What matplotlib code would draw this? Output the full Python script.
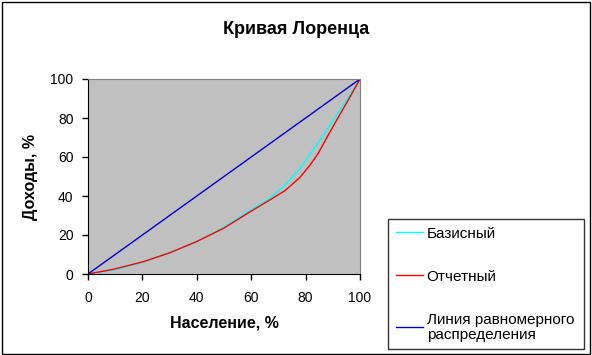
import matplotlib
matplotlib.use("Agg")
import matplotlib.pyplot as plt
from matplotlib.patches import Rectangle

plt.rcParams['font.family'] = ['Liberation Sans', 'DejaVu Sans']

# Data
base_x = [0, 10, 20, 30, 40, 50, 60, 66, 72, 78, 84, 90, 95, 100]
base_y = [0, 2.2, 6.0, 10.8, 16.6, 24.0, 33.0, 38.0, 45.0, 54.2, 66.0, 78.5, 89.0, 100]
rep_x = [0, 9.3, 20.3, 30.1, 39.9, 49.8, 59.6, 65.7, 72.4, 77.9, 81.6, 84.7, 88.0, 92.0, 96.0, 100]
rep_y = [0, 2.4, 6.3, 10.9, 16.6, 23.4, 31.9, 37.0, 42.7, 49.5, 55.8, 62.0, 70.5, 80.3, 90.0, 100]
eq_x = [0, 100]
eq_y = [0, 100]
xticks = [0, 20, 40, 60, 80, 100]
yticks = [0, 20, 40, 60, 80, 100]

fig = plt.figure(figsize=(5.92, 3.55), dpi=100)
fig.patch.set_facecolor('white')
fig.add_artist(Rectangle((0.003, 0.004), 0.993, 0.991, transform=fig.transFigure,
                         fill=False, edgecolor='black', linewidth=1.0))

ax = fig.add_axes([88/592, 1-274/355, (360-88)/592, (274-79)/355])
ax.set_facecolor('#C0C0C0')
l1, = ax.plot(base_x, base_y, color='#00FFFF', linewidth=1.0, label='Базисный')
l2, = ax.plot(rep_x, rep_y, color='#FF0000', linewidth=1.0, label='Отчетный')
l3, = ax.plot(eq_x, eq_y, color='#0000CC', linewidth=1.0, label='Линия равномерного\nраспределения')
ax.set_xlim(0, 100)
ax.set_ylim(0, 100)
ax.set_xticks(xticks)
ax.set_yticks(yticks)
ax.tick_params(direction='out', length=4, width=1, labelsize=10)
ax.tick_params(axis='x', pad=8)
ax.tick_params(axis='y', pad=6.5)
for s in ['top', 'right']:
    ax.spines[s].set_color('#808080')
for s in ['left', 'bottom']:
    ax.spines[s].set_color('black')
ax.set_xlabel('Население, %', fontsize=11.5, fontweight='bold', labelpad=8)
ax.set_ylabel('Доходы, %', fontsize=11.5, fontweight='bold', labelpad=9)

fig.text(296/592, 1-29/355, 'Кривая Лоренца', ha='center', va='center',
         fontsize=13, fontweight='bold')

leg = fig.legend(handles=[l1, l2, l3], loc='upper left',
                 bbox_to_anchor=(388/592, 1-347/355, 196/592, 128/355), mode='expand',
                 fontsize=11, frameon=True, fancybox=False, edgecolor='black',
                 handlelength=1.77, labelspacing=1.9, borderpad=0.5, handletextpad=0.26,
                 borderaxespad=0)
leg.get_frame().set_linewidth(1.0)
leg.get_texts()[2].set_linespacing(1.1)

fig.savefig('out.png', dpi=100)
